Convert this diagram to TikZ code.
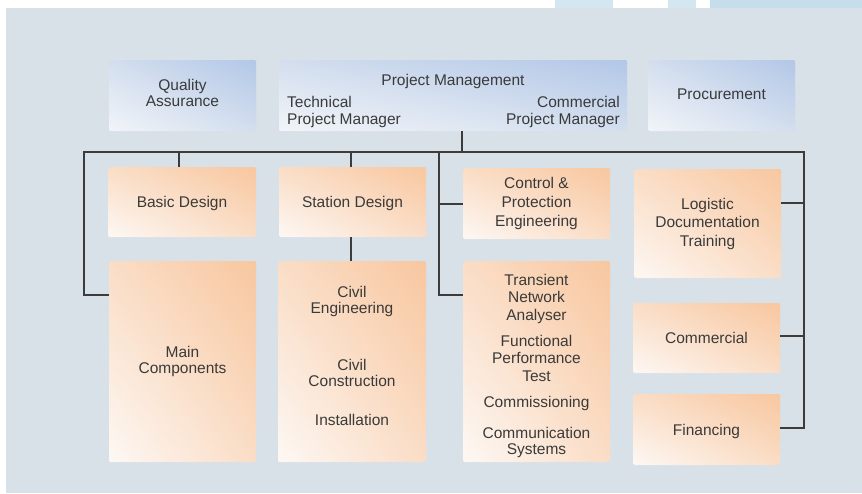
\documentclass[tikz,border=0pt]{standalone}
\usepackage{fontspec}
\setmainfont{Liberation Sans}
\usetikzlibrary{shadings}
\definecolor{bg}{HTML}{D8E0E8}
\definecolor{ln}{HTML}{3C3C3C}
\definecolor{tx}{HTML}{3A3A3A}
\definecolor{bluehi}{HTML}{B2C7E7}
\definecolor{bluelo}{HTML}{F2F5F9}
\definecolor{bluemid}{HTML}{D3DEEE}
\definecolor{peachhi}{HTML}{F8C79F}
\definecolor{peachlo}{HTML}{FDF8F4}
\definecolor{peachmid}{HTML}{FADDC6}
\definecolor{deco}{HTML}{C6DEEC}
\definecolor{decodot}{HTML}{D4E6F0}
\tikzset{
  topbox/.style={anchor=north west, inner sep=0pt, rounded corners=1.5pt, shade,
    lower left=bluelo, upper right=bluehi, upper left=bluemid, lower right=bluemid},
  lowbox/.style={anchor=north west, inner sep=0pt, rounded corners=1.5pt, shade,
    lower left=peachlo, upper right=peachhi, upper left=peachmid, lower right=peachmid},
  txt/.style={anchor=base, inner sep=0pt, text=tx, align=center},
  conn/.style={draw=ln, line width=1.6pt},
}
\newcommand{\fz}[1]{\fontsize{15.5}{#1}\selectfont}
\begin{document}
\begin{tikzpicture}[x=1pt, y=-1pt]
\useasboundingbox (0,0) rectangle (862,493);
\fill[white] (0,0) rectangle (862,493);
\fill[bg] (6,8) rectangle (862,493);
\fill[decodot] (555,0) rectangle (613,8);
\fill[decodot] (668,0) rectangle (696,8);
\fill[deco] (710,0) rectangle (862,8);

% boxes
\node[topbox, minimum width=147pt, minimum height=71pt] (qa) at (109,60) {};
\node[topbox, minimum width=348pt, minimum height=71pt] (pm) at (279,60) {};
\node[topbox, minimum width=147pt, minimum height=71pt] (proc) at (648,60) {};
\node[lowbox, minimum width=148pt, minimum height=70pt] (basic) at (108,167) {};
\node[lowbox, minimum width=147pt, minimum height=70pt] (station) at (279,167) {};
\node[lowbox, minimum width=147pt, minimum height=71pt] (ctrl) at (463,168) {};
\node[lowbox, minimum width=147pt, minimum height=109pt] (logi) at (634,169) {};
\node[lowbox, minimum width=147pt, minimum height=201pt] (main) at (109,261) {};
\node[lowbox, minimum width=148pt, minimum height=201pt] (civil) at (278,261) {};
\node[lowbox, minimum width=147pt, minimum height=201pt] (trans) at (463,261) {};
\node[lowbox, minimum width=147pt, minimum height=70pt] (comm) at (633,303) {};
\node[lowbox, minimum width=147pt, minimum height=71pt] (fin) at (633,394) {};

% texts (anchor base = baseline of the last line)
\node[txt, font=\fz{16}] (qaT) at (182.5,106.7) {Quality\\Assurance};
\node[txt, font=\fz{17}] (pmT) at (453,85) {Project Management};
\node[txt, font=\fz{17.4}, anchor=base west, align=left] (tpm) at (287,124.7) {Technical\\Project Manager};
\node[txt, font=\fz{17.4}, anchor=base east, align=right] (cpm) at (620,124.7) {Commercial\\Project Manager};
\node[txt, font=\fz{17}] (procT) at (721.5,99.3) {Procurement};
\node[txt, font=\fz{17}] (basicT) at (182,207.3) {Basic Design};
\node[txt, font=\fz{17}] (stationT) at (352.5,207.3) {Station Design};
\node[txt, font=\fz{19}] (ctrlT) at (536.5,226.3) {Control \&\\Protection\\Engineering};
\node[txt, font=\fz{18.5}] (logiT) at (707.5,246.3) {Logistic\\Documentation\\Training};
\node[txt, font=\fz{16}] (mainT) at (182.5,373.3) {Main\\Components};
\node[txt, font=\fz{16}] (ceT) at (352,313.3) {Civil\\Engineering};
\node[txt, font=\fz{16}] (ccT) at (352,386) {Civil\\Construction};
\node[txt, font=\fz{16}] (instT) at (352,425.7) {Installation};
\node[txt, font=\fz{17.3}] (tnaT) at (536.5,320) {Transient\\Network\\Analyser};
\node[txt, font=\fz{17.2}] (fptT) at (536.5,381) {Functional\\Performance\\Test};
\node[txt, font=\fz{17}] (comT) at (536.5,407.3) {Commissioning};
\node[txt, font=\fz{16}] (csT) at (536.5,454.3) {Communication\\Systems};
\node[txt, font=\fz{17}] (commT) at (706.5,343.3) {Commercial};
\node[txt, font=\fz{17}] (finT) at (706.5,435.3) {Financing};

% connector coordinates
\coordinate (bL) at (84,152);
\coordinate (bR) at (804,152);
\coordinate (bPM) at (461.7,152);
\coordinate (bBD) at (178.7,152);
\coordinate (bSD) at (351,152);
\coordinate (bC) at (439,152);
\coordinate (mL) at (84,295);
\coordinate (cC) at (439,204);
\coordinate (cT) at (439,295);
\coordinate (lgR) at (804,202.7);
\coordinate (cmR) at (804,336);
\coordinate (fR) at (804,427.7);

% connectors
\draw[conn] (pm.south -| bPM) -- (bPM);
\draw[conn] (main.west |- mL) -| (bL) -- (bR) |- (fin.east |- fR);
\draw[conn] (bBD) -- (basic.north -| bBD);
\draw[conn] (bSD) -- (station.north -| bSD);
\draw[conn] (station.south -| bSD) -- (civil.north -| bSD);
\draw[conn] (bC) |- (trans.west |- cT);
\draw[conn] (cC) -- (ctrl.west |- cC);
\draw[conn] (logi.east |- lgR) -- (lgR);
\draw[conn] (comm.east |- cmR) -- (cmR);
\end{tikzpicture}
\end{document}
